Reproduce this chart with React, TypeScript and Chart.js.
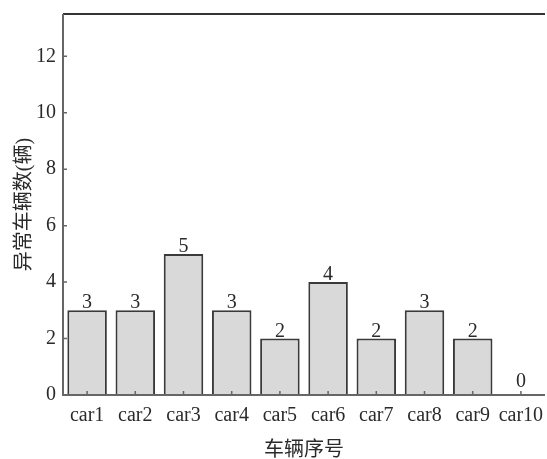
import React, { useEffect, useRef } from "react";
import { Chart, registerables } from "chart.js";

Chart.register(...registerables);

const categories = ["car1", "car2", "car3", "car4", "car5", "car6", "car7", "car8", "car9", "car10"];
const abnormalCounts = [3, 3, 5, 3, 2, 4, 2, 3, 2, 0];
const yTickValues = [0, 2, 4, 6, 8, 10, 12];
const xTitle = "车辆序号";
const yTitle = "异常车辆数(辆)";

const FONT = "'Liberation Serif', 'Noto Sans CJK SC', serif";

const framePlugin = {
  id: "frame",
  afterDraw(chart: any) {
    const { ctx, chartArea } = chart;
    const { left, right, top, bottom } = chartArea;
    const xs = chart.scales.x;
    const ys = chart.scales.y;
    ctx.save();
    ctx.strokeStyle = "#333";
    ctx.lineWidth = 2;
    ctx.beginPath();
    ctx.moveTo(left, top);
    ctx.lineTo(right, top);
    ctx.stroke();
    ctx.strokeStyle = "#666";
    ctx.lineWidth = 2;
    ctx.beginPath();
    ctx.moveTo(left, top);
    ctx.lineTo(left, bottom);
    ctx.moveTo(left - 1, bottom);
    ctx.lineTo(right, bottom);
    ctx.stroke();
    ctx.lineWidth = 1.5;
    ctx.beginPath();
    ys.ticks.forEach((_t: any, i: number) => {
      const y = ys.getPixelForTick(i);
      ctx.moveTo(left, y);
      ctx.lineTo(left + 4, y);
    });
    xs.ticks.forEach((_t: any, i: number) => {
      const x = xs.getPixelForTick(i);
      ctx.moveTo(x, bottom);
      ctx.lineTo(x, bottom - 4);
    });
    ctx.stroke();
    ctx.restore();
  },
};

const labelPlugin = {
  id: "valueLabels",
  afterDatasetsDraw(chart: any) {
    const { ctx } = chart;
    const meta = chart.getDatasetMeta(0);
    ctx.save();
    ctx.font = `20px ${FONT}`;
    ctx.fillStyle = "#2a2a2a";
    ctx.textAlign = "center";
    ctx.textBaseline = "alphabetic";
    meta.data.forEach((el: any, i: number) => {
      const v = abnormalCounts[i];
      ctx.fillText(String(v), el.x, el.y - (v === 0 ? 8 : 2));
    });
    ctx.restore();
  },
};

export default function App() {
  const ref = useRef<HTMLCanvasElement | null>(null);
  useEffect(() => {
    document.body.style.margin = "0";
    if (!ref.current) return;
    const chart = new Chart(ref.current, {
      type: "bar",
      data: {
        labels: categories,
        datasets: [
          {
            data: abnormalCounts,
            backgroundColor: "#d9d9d9",
            borderColor: "#3a3a3a",
            borderWidth: 2,
            barPercentage: 0.82,
            categoryPercentage: 1,
          },
        ],
      },
      options: {
        animation: false,
        responsive: false,
        maintainAspectRatio: false,
        layout: { padding: { top: 14, right: 2, left: 0, bottom: 0 } },
        plugins: { legend: { display: false }, tooltip: { enabled: false } },
        scales: {
          x: {
            grid: { display: false, drawTicks: false },
            border: { display: false },
            ticks: { color: "#2a2a2a", font: { family: FONT, size: 20 }, padding: 9, maxRotation: 0, autoSkip: false },
            title: { display: true, text: xTitle, color: "#2a2a2a", font: { family: FONT, size: 20 }, padding: { top: 0, bottom: -4 } },
            afterFit: (s: any) => { s.height = 64; s.paddingLeft = 0; s.paddingRight = 0; },
          },
          y: {
            min: 0,
            max: 13.5,
            grid: { display: false, drawTicks: false },
            border: { display: false },
            ticks: { color: "#2a2a2a", font: { family: FONT, size: 20 }, padding: 7, stepSize: 2 },
            afterBuildTicks: (s: any) => {
              s.ticks = yTickValues.map((v) => ({ value: v }));
            },
            title: { display: true, text: yTitle, color: "#2a2a2a", font: { family: FONT, size: 20 }, padding: { top: 13, bottom: 0 } },
            afterFit: (s: any) => { s.width = 63; s.paddingTop = 0; s.paddingBottom = 0; },
          },
        },
      },
      plugins: [framePlugin, labelPlugin],
    });
    return () => chart.destroy();
  }, []);
  return (
    <div style={{ position: "absolute", left: 0, top: 0, width: 547, height: 459 }}>
      <canvas ref={ref} width={547} height={459} style={{ width: 547, height: 459 }} />
    </div>
  );
}
